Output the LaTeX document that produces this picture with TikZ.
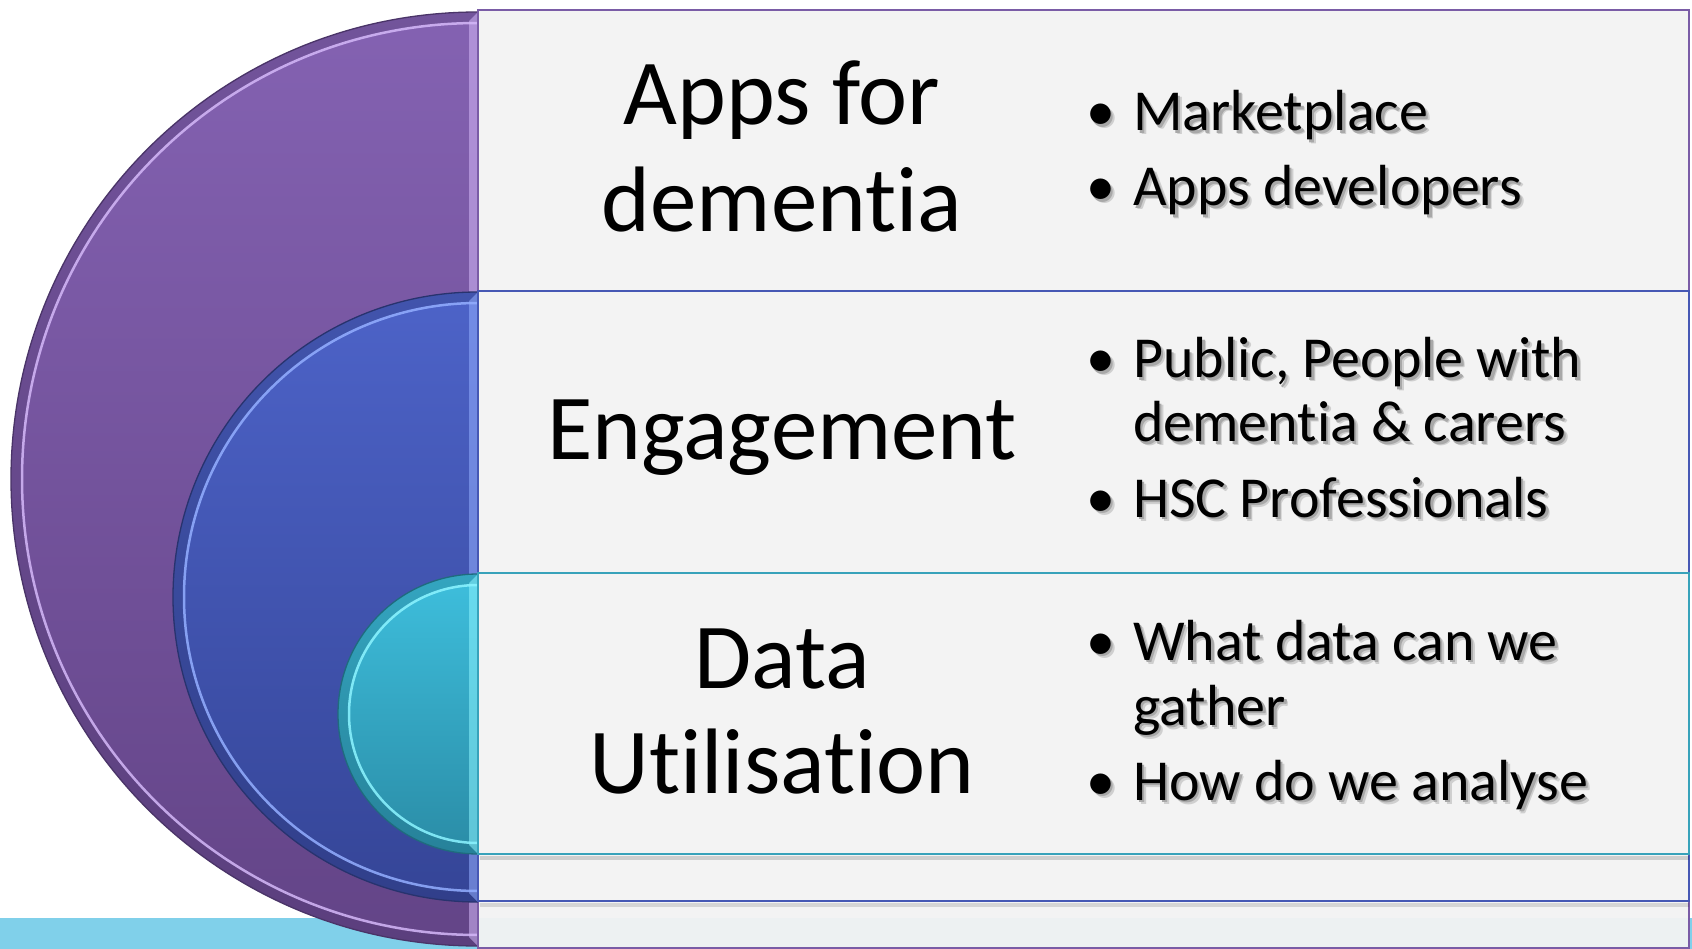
\documentclass[tikz,border=0pt]{standalone}
\usepackage{fontspec}
\setmainfont{Carlito}[Ligatures={NoCommon}]
\definecolor{purpT}{HTML}{8462B2}
\definecolor{purpB}{HTML}{634487}
\definecolor{purpL}{HTML}{D4B8F8}
\definecolor{purpD}{HTML}{4A3468}
\definecolor{bluT}{HTML}{4D63C8}
\definecolor{bluB}{HTML}{354597}
\definecolor{bluL}{HTML}{93AEFF}
\definecolor{bluD}{HTML}{28336E}
\definecolor{tealT}{HTML}{3EBFDD}
\definecolor{tealB}{HTML}{2A8CA6}
\definecolor{tealL}{HTML}{8CF4FF}
\definecolor{tealD}{HTML}{1F6B7E}
\definecolor{boxfill}{HTML}{F3F3F3}
\definecolor{barblue}{HTML}{80D0EA}
\definecolor{boxP}{HTML}{7A5CA6}
\definecolor{boxB}{HTML}{4658B4}
\definecolor{boxT}{HTML}{38A2BA}
\definecolor{shadA}{HTML}{CFCFCF}
\definecolor{shadB}{HTML}{A8A8A8}
\newcommand{\mydisk}[7]{%
  \begin{scope}
    \clip (0,0) rectangle (#1,949);
    \shade[top color=#4,bottom color=#5] (#1,#2) circle[radius=#3];
    \draw[#7,opacity=0.3,line width=10pt] (#1,#2) circle[radius=#3-5];
    \draw[#6,line width=2.5pt,opacity=0.85] (#1,#2) circle[radius=#3-11];
    \draw[#7,line width=1.3pt] (#1,#2) circle[radius=#3];
  \end{scope}
  \fill[#6,opacity=0.55] (#1-9,#2-#3+9) -- (#1,#2-#3) -- (#1,#2+#3) -- (#1-9,#2+#3-9) -- cycle;
}
% text with a soft drop shadow, all in one box
\newcommand{\shd}[1]{%
  \makebox[0pt][l]{\hspace{4pt}\raisebox{-4pt}{\color{shadA}#1}}%
  \makebox[0pt][l]{\hspace{2.5pt}\raisebox{-2.5pt}{\color{shadB}#1}}%
  #1}
\newcommand{\myline}[3]{%
  \node[btxt,anchor=base west] (#1) at (1086,#2) {\shd{#3}};
}
\newcommand{\bul}{\makebox[47pt][l]{•}}
\newcommand{\ind}{\hspace*{47pt}}
\begin{document}
\begin{tikzpicture}[x=1pt,y=-1pt,
  head/.style={font=\fontsize{93pt}{107pt}\selectfont,inner sep=0pt,text=black},
  btxt/.style={font=\fontsize{58pt}{65pt}\selectfont,inner sep=0pt,text=black},
  boxstyle/.style={fill=boxfill,fill opacity=0.95,line width=1.5pt}]
\useasboundingbox (0,0) rectangle (1692,949);
\fill[white] (0,0) rectangle (1692,949);
% light blue bar
\fill[barblue] (0,918) rectangle (1692,949);
% outer: purple
\mydisk{478}{479}{467}{purpT}{purpB}{purpL}{purpD}
\draw[boxstyle,draw=boxP] (478,10) rectangle (1689,948);
% middle: blue
\mydisk{478}{597}{305}{bluT}{bluB}{bluL}{bluD}
\fill[black,opacity=0.12] (480,903) rectangle (1689,907);
\draw[boxstyle,draw=boxB] (478,291) rectangle (1689,901);
% inner: teal
\mydisk{478}{714}{140}{tealT}{tealB}{tealL}{tealD}
\fill[black,opacity=0.15] (480,856) rectangle (1689,860);
\draw[boxstyle,draw=boxT,line width=2pt] (478,573) rectangle (1689,854);
% headings
\node[head,anchor=base] (h1a) at (782,125) {Apps for};
\node[head,anchor=base] (h1b) at (782,232) {dementia};
\node[head,anchor=base] (h2) at (782,459) {Engagement};
\node[head,anchor=base] (h3a) at (782,688) {Data};
\node[head,anchor=base] (h3b) at (782,793) {Utilisation};
% bullets
\myline{b1}{131}{\bul Marketplace}
\myline{b2}{206}{\bul Apps developers}
\myline{b3}{378}{\bul Public, People with}
\myline{b3b}{442}{\ind dementia \& carers}
\myline{b4}{517}{\bul HSC Professionals}
\myline{b5}{660}{\bul What data can we}
\myline{b5b}{725}{\ind gather}
\myline{b6}{800}{\bul How do we analyse}
\end{tikzpicture}
\end{document}
